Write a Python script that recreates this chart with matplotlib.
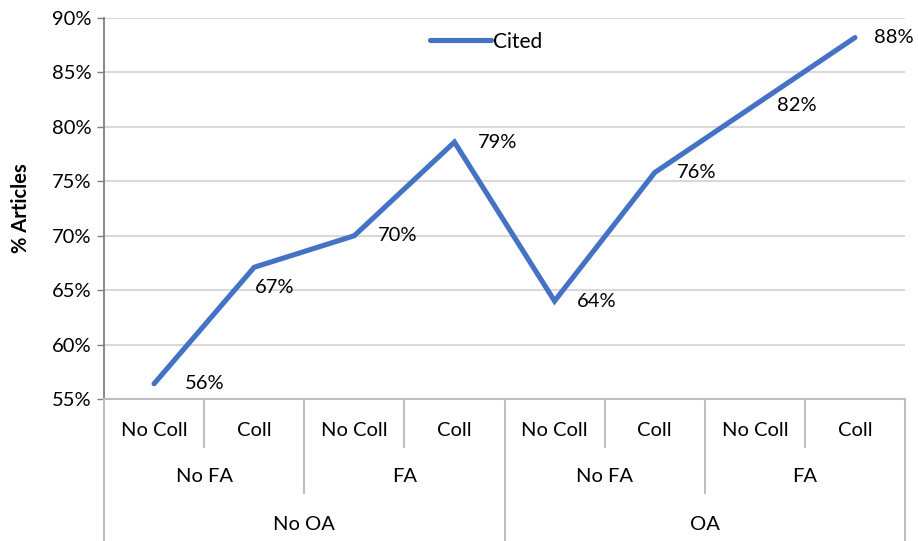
import matplotlib
matplotlib.use("Agg")
import matplotlib.pyplot as plt
from matplotlib.ticker import FuncFormatter

plt.rcParams['font.family'] = ['Lato', 'DejaVu Sans']

# data
coll_labels = ["No Coll", "Coll", "No Coll", "Coll", "No Coll", "Coll", "No Coll", "Coll"]
fa_labels = ["No FA", "FA", "No FA", "FA"]
oa_labels = ["No OA", "OA"]
cited = [56.4, 67.1, 70.0, 78.6, 64.0, 75.8, 82.0, 88.2]
label_text = ["56%", "67%", "70%", "79%", "64%", "76%", "82%", "88%"]

# label offsets in pixels (dx, dy)
offsets = [(31, 0), (1, -20), (24, 0), (23, 0), (22, 0), (22, 0), (22, 0), (19, 0)]

BLUE = "#4472C4"
GRID = "#d9d9d9"
AXC = "#bfbfbf"
FS = 14.5

fig = plt.figure(figsize=(9.18, 5.41), dpi=100)
ax = fig.add_axes([104 / 918, 1 - 399 / 541, (905 - 104) / 918, (399 - 18) / 541])

x = list(range(len(cited)))
ax.plot(x, cited, color=BLUE, lw=3.7, solid_capstyle="round", solid_joinstyle="miter", label="Cited", zorder=3)

for xi, v, t, (dx, dy) in zip(x, cited, label_text, offsets):
    ax.annotate(t, (xi, v), xytext=(dx * 0.72, dy * 0.72), textcoords="offset points",
                ha="left", va="center", fontsize=FS, color="black")

ax.set_xlim(-0.5, len(cited) - 0.5)
ax.set_ylim(55, 90)
ax.set_yticks(range(55, 91, 5))
ax.yaxis.set_major_formatter(FuncFormatter(lambda v, p: f"{v:.0f}%"))
ax.tick_params(axis="y", labelsize=FS, length=5, width=1, color="#7f7f7f", pad=4)
ax.set_xticks([])
ax.grid(axis="y", color=GRID, lw=1.5, zorder=0)
ax.set_axisbelow(True)

for s in ["top", "right"]:
    ax.spines[s].set_visible(False)
ax.spines["left"].set_color("#7f7f7f")
ax.spines["left"].set_linewidth(1.3)
ax.spines["bottom"].set_color(AXC)
ax.spines["bottom"].set_linewidth(1.5)

ax.set_ylabel("% Articles", fontsize=FS, fontweight="bold", labelpad=15)

# multi-level category axis
tr = ax.get_xaxis_transform()
px = 1 / 381
d1, d2, d3 = -48 * px, -94 * px, -142 * px
n = len(cited)
for i in range(n + 1):
    b = i - 0.5
    if i % 4 == 0:
        depth = d3
    elif i % 2 == 0:
        depth = d2
    else:
        depth = d1
    ax.plot([b, b], [0, depth], transform=tr, color=AXC, lw=1.5, clip_on=False)

for i, t in enumerate(coll_labels):
    ax.text(i, -32 * px, t, transform=tr, ha="center", va="center", fontsize=FS)
for i, t in enumerate(fa_labels):
    ax.text(2 * i + 0.5, -78 * px, t, transform=tr, ha="center", va="center", fontsize=FS)
for i, t in enumerate(oa_labels):
    ax.text(4 * i + 1.5, -126 * px, t, transform=tr, ha="center", va="center", fontsize=FS)

ax.legend(loc="upper center", bbox_to_anchor=(0.477, 1.0), frameon=False, fontsize=15,
          handlelength=2.9, handletextpad=0.1, borderaxespad=0.25)

fig.savefig("out.png", dpi=100)
